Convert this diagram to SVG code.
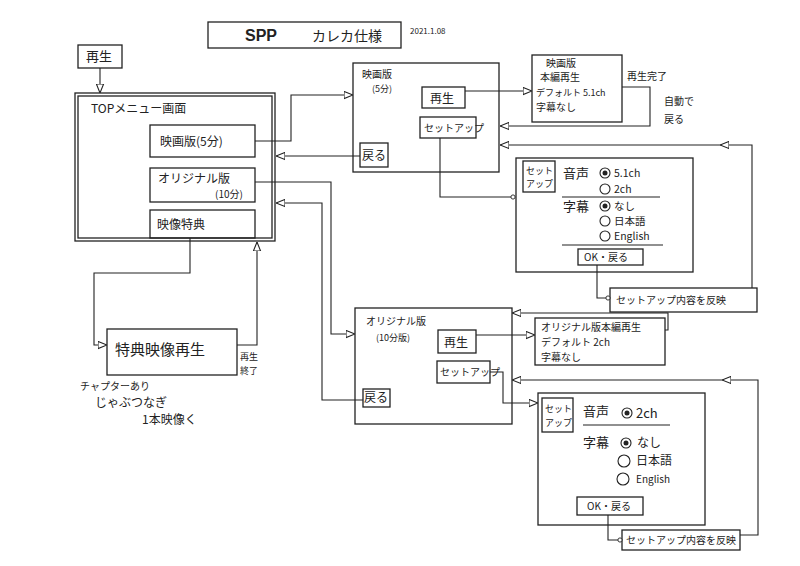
<svg xmlns="http://www.w3.org/2000/svg" width="800" height="566" viewBox="0 0 800 566">
<style>
text{font-family:"Noto Sans CJK JP","Noto Sans",sans-serif;fill:#222;font-size:12px}
.b{fill:none;stroke:#222;stroke-width:1.3}
.c{fill:none;stroke:#222;stroke-width:1.1}
.s{font-size:9px}
.m{font-size:10px}
.l{font-size:15px}
.r{font-size:10.5px}
</style>
<defs>
<marker id="tri" viewBox="0 0 10 10" refX="10" refY="5" markerWidth="9" markerHeight="9" orient="auto" markerUnits="userSpaceOnUse">
<path d="M0,1 L10,5 L0,9 Z" fill="#fff" stroke="#222" stroke-width="1.2"/>
</marker>
<marker id="dot" viewBox="0 0 10 10" refX="5" refY="5" markerWidth="6" markerHeight="6" markerUnits="userSpaceOnUse">
<circle cx="5" cy="5" r="3.5" fill="#fff" stroke="#222" stroke-width="1.5"/>
</marker>
</defs>
<rect width="800" height="566" fill="#fff"/>

<g id="title">
<rect class="b" x="208" y="22" width="193" height="26"/>
<text x="245" y="41" style="font-size:16px;font-weight:bold;font-family:'Liberation Sans',sans-serif">SPP</text>
<text x="312" y="41" style="font-size:14px">カレカ仕様</text>
<text x="410" y="34" style="font-size:8px">2021.1.08</text>
</g>

<g id="play-start">
<rect class="b" x="78" y="45" width="44" height="23"/>
<text x="86" y="61" style="font-size:13px">再生</text>
</g>

<g id="top-menu">
<rect class="b" x="75" y="93" width="200" height="148"/>
<rect class="b" x="78" y="96" width="194" height="142"/>
<text x="91" y="113">TOPメニュー画面</text>
<rect class="b" x="150" y="125" width="105" height="32"/>
<text x="160" y="146">映画版(5分)</text>
<rect class="b" x="150" y="168" width="105" height="34"/>
<text x="158" y="183">オリジナル版</text>
<text x="215" y="198" class="m">(10分)</text>
<rect class="b" x="150" y="210" width="105" height="28"/>
<text x="157" y="229">映像特典</text>
</g>

<g id="bonus-play">
<rect class="b" x="107" y="329" width="130" height="46"/>
<text x="115" y="355" class="l">特典映像再生</text>
<text x="240" y="360" class="s">再生</text>
<text x="240" y="374" class="s">終了</text>
<text x="80" y="390" class="m">チャプターあり</text>
<text x="95" y="407">じゃぶつなぎ</text>
<text x="142" y="424">1本映像く</text>
</g>

<g id="movie-ver">
<rect class="b" x="353" y="63" width="146" height="109"/>
<text x="362" y="78" class="m">映画版</text>
<text x="372" y="92" class="s">(5分)</text>
<rect class="b" x="422" y="87" width="43" height="21"/>
<text x="430" y="103">再生</text>
<rect class="b" x="420" y="117" width="56" height="21"/>
<text x="424" y="132" class="m">セットアップ</text>
<rect class="b" x="360" y="143" width="28" height="24"/>
<text x="362" y="160">戻る</text>
</g>

<g id="movie-play">
<rect class="b" x="532" y="55" width="90" height="67"/>
<text x="546" y="67" class="m">映画版</text>
<text x="540" y="81" class="m">本編再生</text>
<text x="536" y="96" class="s">デフォルト 5.1ch</text>
<text x="536" y="111" class="m">字幕なし</text>
<text x="627" y="80" class="m">再生完了</text>
<text x="664" y="105" class="m">自動で</text>
<text x="664" y="123" class="m">戻る</text>
</g>

<g id="movie-setup">
<rect class="b" x="516" y="158" width="177" height="114"/>
<rect class="b" x="523" y="161" width="32" height="31"/>
<text x="526" y="174" class="s">セット</text>
<text x="526" y="187" class="s">アップ</text>
<text x="563" y="178" style="font-size:13px">音声</text>
<circle class="c" cx="605" cy="173" r="5"/><circle cx="605" cy="173" r="2.5" fill="#222"/>
<text x="614" y="177" class="r">5.1ch</text>
<circle class="c" cx="605" cy="189" r="5"/>
<text x="614" y="193" class="r">2ch</text>
<line class="c" x1="562" y1="197" x2="660" y2="197"/>
<text x="563" y="211" style="font-size:13px">字幕</text>
<circle class="c" cx="605" cy="206" r="5"/><circle cx="605" cy="206" r="2.5" fill="#222"/>
<text x="614" y="210" class="r">なし</text>
<circle class="c" cx="605" cy="221" r="5"/>
<text x="614" y="225" class="r">日本語</text>
<circle class="c" cx="605" cy="236" r="5"/>
<text x="614" y="240" class="r">English</text>
<line class="c" x1="562" y1="245" x2="663" y2="245"/>
<rect class="b" x="578" y="249" width="65" height="16"/>
<text x="584" y="261" class="m">OK・戻る</text>
</g>

<g id="movie-apply">
<rect class="b" x="610" y="288" width="147" height="24"/>
<text x="616" y="304" class="m">セットアップ内容を反映</text>
</g>

<g id="orig-ver">
<rect class="b" x="355" y="308" width="157" height="116"/>
<text x="366" y="325" class="m">オリジナル版</text>
<text x="376" y="341" class="s">(10分版)</text>
<rect class="b" x="438" y="330" width="38" height="23"/>
<text x="444" y="347">再生</text>
<rect class="b" x="437" y="361" width="53" height="22"/>
<text x="440" y="376" class="m">セットアップ</text>
<rect class="b" x="363" y="389" width="27" height="18"/>
<text x="364" y="402">戻る</text>
</g>

<g id="orig-play">
<rect class="b" x="535" y="318" width="130" height="47"/>
<text x="541" y="331" class="m">オリジナル版本編再生</text>
<text x="541" y="346" class="m">デフォルト 2ch</text>
<text x="541" y="361" class="m">字幕なし</text>
</g>

<g id="orig-setup">
<rect class="b" x="538" y="393" width="167" height="132"/>
<rect class="b" x="542" y="398" width="31" height="34"/>
<text x="545" y="412" class="s">セット</text>
<text x="545" y="426" class="s">アップ</text>
<text x="583" y="416" style="font-size:13px">音声</text>
<circle class="c" cx="627" cy="413" r="5"/><circle cx="627" cy="413" r="2.5" fill="#222"/>
<text x="636" y="418" style="font-size:13px">2ch</text>
<line class="c" x1="583" y1="425" x2="670" y2="425"/>
<text x="583" y="447" style="font-size:13px">字幕</text>
<circle class="c" cx="626" cy="443" r="5"/><circle cx="626" cy="443" r="2.5" fill="#222"/>
<text x="637" y="447">なし</text>
<circle class="c" cx="624" cy="461" r="6"/>
<text x="636" y="465">日本語</text>
<circle class="c" cx="623" cy="479" r="6"/>
<text x="636" y="483" class="m">English</text>
<rect class="b" x="577" y="497" width="66" height="18"/>
<text x="587" y="510" class="m">OK・戻る</text>
</g>

<g id="orig-apply">
<rect class="b" x="622" y="530" width="118" height="20"/>
<text x="626" y="544" style="font-size:10px">セットアップ内容を反映</text>
</g>

<g id="connectors">
<path class="c" d="M100,68 V93" marker-end="url(#tri)"/>
<path class="c" d="M255,141 H291 V95 H353" marker-end="url(#tri)"/>
<path class="c" d="M360,156 H276" marker-end="url(#tri)"/>
<path class="c" d="M255,182 H331 V334 H355" marker-end="url(#tri)"/>
<path class="c" d="M363,400 H322 V203 H276" marker-end="url(#tri)"/>
<path class="c" d="M190,238 V273 H94 V345 H107" marker-end="url(#tri)"/>
<path class="c" d="M237,345 H257 V242" marker-end="url(#tri)"/>
<path class="c" d="M465,91 H532" marker-end="url(#tri)"/>
<path class="c" d="M622,87 H650 V126 H500" marker-end="url(#tri)"/>
<path class="c" d="M440,138 V197 H513" marker-end="url(#dot)"/>
<path class="c" d="M597,265 V298 H608" marker-end="url(#dot)"/>
<path class="c" d="M752,288 V145 H720" marker-end="url(#tri)"/>
<path class="c" d="M720,145 H500" marker-end="url(#tri)"/>
<path class="c" d="M476,335 H535" marker-end="url(#tri)"/>
<path class="c" d="M665,330 H668 V313 H512" marker-end="url(#tri)"/>
<path class="c" d="M490,372 H503 V403 H538" marker-end="url(#tri)"/>
<path class="c" d="M608,515 V540 H620" marker-end="url(#dot)"/>
<path class="c" d="M740,535 H758 V380 H722" marker-end="url(#tri)"/>
<path class="c" d="M722,380 H512" marker-end="url(#tri)"/>
</g>
</svg>
